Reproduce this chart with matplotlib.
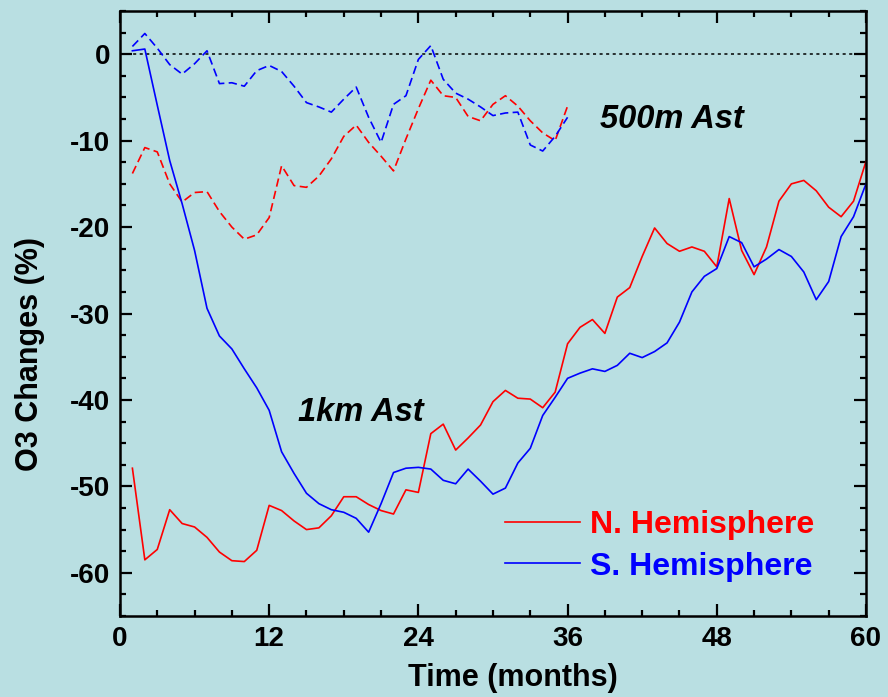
import numpy as np
import matplotlib
matplotlib.use("Agg")
import matplotlib.pyplot as plt
from matplotlib.lines import Line2D
from matplotlib.ticker import MultipleLocator

plt.rcParams["font.family"] = ["Liberation Sans", "DejaVu Sans"]
plt.rcParams["font.weight"] = "bold"
plt.rcParams["axes.unicode_minus"] = False

BG = "#b9dfe2"
RED = "#ff0000"
BLUE = "#0000ff"

# monthly ozone change (%) after impact, 1 km asteroid
months_1km = np.arange(1, 61)
nh_1km = [-47.9, -58.5, -57.3, -52.7, -54.3, -54.7, -55.9, -57.6, -58.6, -58.7,
          -57.4, -52.2, -52.8, -54.0, -55.0, -54.8, -53.4, -51.2, -51.2, -52.1,
          -52.8, -53.2, -50.4, -50.7, -43.9, -42.8, -45.8, -44.4, -42.9, -40.2,
          -38.9, -39.8, -39.9, -40.9, -39.1, -33.5, -31.6, -30.7, -32.3, -28.1,
          -27.0, -23.4, -20.1, -21.9, -22.8, -22.3, -22.8, -24.6, -16.7, -22.7,
          -25.5, -22.3, -17.0, -15.0, -14.6, -15.8, -17.7, -18.8, -17.0, -12.4]
sh_1km = [0.4, 0.6, -5.9, -12.3, -17.3, -22.7, -29.4, -32.6, -34.1, -36.4,
          -38.6, -41.2, -46.0, -48.5, -50.8, -52.0, -52.7, -53.0, -53.7, -55.3,
          -52.0, -48.4, -47.9, -47.8, -48.0, -49.3, -49.7, -48.0, -49.4, -50.9,
          -50.2, -47.3, -45.6, -41.8, -39.7, -37.5, -36.9, -36.4, -36.7, -36.0,
          -34.6, -35.1, -34.4, -33.4, -31.0, -27.5, -25.7, -24.8, -21.1, -21.8,
          -24.6, -23.7, -22.6, -23.4, -25.2, -28.4, -26.3, -21.1, -18.8, -15.0]

# 500 m asteroid, first three years
months_500m = np.arange(1, 37)
nh_500m = [-13.8, -10.8, -11.3, -15.0, -17.1, -16.0, -15.9, -18.2, -20.0, -21.4,
           -20.9, -18.9, -12.9, -15.2, -15.4, -14.1, -12.1, -9.5, -8.2, -10.2,
           -11.8, -13.5, -9.8, -6.3, -3.0, -4.8, -5.0, -7.2, -7.7, -5.8,
           -4.8, -6.0, -7.7, -9.1, -10.0, -6.0]
sh_500m = [0.9, 2.4, 0.7, -1.2, -2.3, -1.1, 0.4, -3.4, -3.3, -3.7,
           -1.9, -1.3, -2.0, -3.7, -5.6, -6.1, -6.7, -5.2, -3.8, -7.3,
           -10.2, -5.8, -4.8, -0.6, 1.0, -2.9, -4.5, -5.2, -6.1, -7.1,
           -6.8, -6.7, -10.5, -11.2, -9.5, -7.3]

fig = plt.figure(figsize=(8.88, 6.97), dpi=100, facecolor=BG)
ax = fig.add_axes([0.1351, 0.1162, 0.8401, 0.868], facecolor=BG)

ax.axhline(0, color="black", lw=1.1, ls=(0, (2, 2.3)))
dash = (0, (5, 2.6))
ax.plot(months_500m, nh_500m, color=RED, lw=1.2, ls=dash)
ax.plot(months_500m, sh_500m, color=BLUE, lw=1.2, ls=dash)
ax.plot(months_1km, nh_1km, color=RED, lw=1.2)
ax.plot(months_1km, sh_1km, color=BLUE, lw=1.2)

ax.text(44.4, -7.6, "500m Ast", fontsize=23.5, style="italic", weight="bold",
        ha="center", va="center")
ax.text(19.35, -41.5, "1km Ast", fontsize=23.5, style="italic", weight="bold",
        ha="center", va="center")

handles = [Line2D([], [], color=RED, lw=1.2), Line2D([], [], color=BLUE, lw=1.2)]
leg = ax.legend(handles, ["N. Hemisphere", "S. Hemisphere"], loc="center left",
                bbox_to_anchor=(0.516, 0.116), frameon=False, fontsize=23,
                handlelength=2.35, handletextpad=0.3, labelspacing=0.36,
                borderpad=0, borderaxespad=0, labelcolor="linecolor")
for t in leg.get_texts():
    t.set_fontweight("bold")

ax.set_xlim(0, 60)
ax.set_ylim(-65, 5)
ax.xaxis.set_major_locator(MultipleLocator(12))
ax.xaxis.set_minor_locator(MultipleLocator(3))
ax.yaxis.set_major_locator(MultipleLocator(10))
ax.yaxis.set_minor_locator(MultipleLocator(2.5))
ax.tick_params(which="both", direction="in", top=True, right=True,
               width=1.6, colors="black", labelsize=20, pad=7)
ax.tick_params(which="major", length=8.5)
ax.tick_params(which="minor", length=4.5)
for lab in ax.get_xticklabels() + ax.get_yticklabels():
    lab.set_fontweight("bold")
for s in ax.spines.values():
    s.set_linewidth(1.8)

ax.set_xlabel("Time (months)", fontsize=22, weight="bold")
ax.set_ylabel("O3 Changes (%)", fontsize=22, weight="bold")
ax.xaxis.set_label_coords(0.527, -0.078)
ax.yaxis.set_label_coords(-0.100, 0.433)

fig.savefig("out.png", dpi=100, facecolor=BG)
